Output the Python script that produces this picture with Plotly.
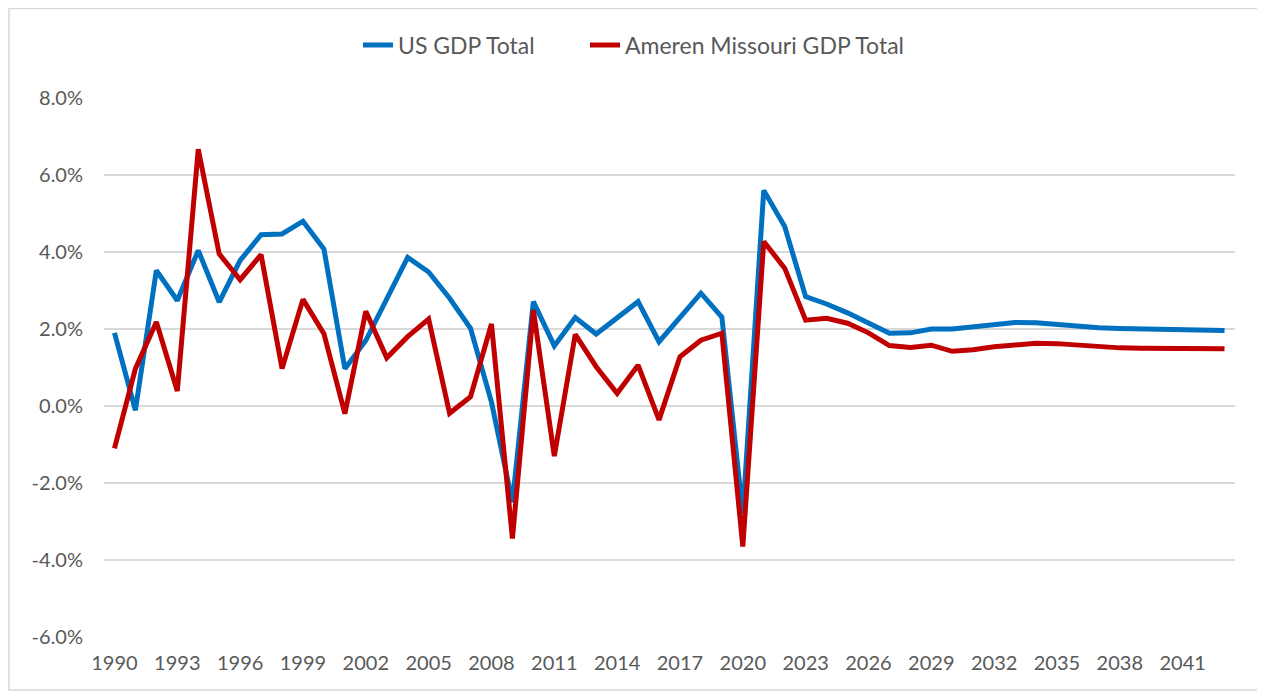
import plotly.graph_objects as go

years = list(range(1990, 2044))

us_gdp = [1.90, -0.11, 3.52, 2.74, 4.04, 2.70, 3.78, 4.45, 4.47, 4.80,
          4.08, 0.97, 1.70, 2.80, 3.86, 3.48, 2.80, 2.02, 0.10, -2.50,
          2.71, 1.56, 2.30, 1.87, 2.29, 2.71, 1.67, 2.32, 2.93, 2.31,
          -2.80, 5.60, 4.66, 2.84, 2.65, 2.42, 2.16, 1.89, 1.90, 2.00,
          2.00, 2.05, 2.12, 2.17, 2.16, 2.11, 2.08, 2.03, 2.01, 2.00,
          1.99, 1.97, 1.96, 1.96]

ameren_gdp = [-1.10, 0.97, 2.18, 0.39, 6.67, 3.95, 3.28, 3.93, 0.97, 2.77,
              1.88, -0.20, 2.46, 1.25, 1.80, 2.26, -0.19, 0.24, 2.13, -3.44,
              2.49, -1.30, 1.86, 1.02, 0.33, 1.06, -0.36, 1.28, 1.71, 1.89,
              -3.65, 4.27, 3.58, 2.23, 2.28, 2.15, 1.90, 1.57, 1.52, 1.58,
              1.42, 1.46, 1.54, 1.60, 1.63, 1.62, 1.58, 1.52, 1.51, 1.50,
              1.49, 1.48, 1.47, 1.49]

tick_years = list(range(1990, 2044, 3))
y_ticks = [-6, -4, -2, 0, 2, 4, 6, 8]
y_labels = [f"{v:.1f}%" for v in y_ticks]

FONT = "Lato, 'Open Sans', sans-serif"
TXT = "#595959"

# page has an 8px body margin; figure is sized/offset to compensate
W, H = 1257, 685
L, T, R, B = 96, 90, 30, 56
PW = W - L - R
PH = H - T - B

fig = go.Figure()
fig.add_trace(go.Scatter(x=years, y=us_gdp, mode="lines", name="US GDP Total",
                         line=dict(color="#0070C0", width=5), legend="legend"))
fig.add_trace(go.Scatter(x=years, y=ameren_gdp, mode="lines", name="Ameren Missouri GDP Total",
                         line=dict(color="#C00000", width=5), legend="legend2"))

leg_common = dict(orientation="h", xanchor="left", y=(PH + T - 37) / PH, yanchor="middle",
                  font=dict(family=FONT, size=23, color=TXT), bgcolor="rgba(0,0,0,0)")

fig.update_layout(
    width=W, height=H,
    margin=dict(l=L, r=R, t=T, b=B, autoexpand=False),
    paper_bgcolor="white", plot_bgcolor="white",
    font=dict(family=FONT, size=20, color=TXT),
    showlegend=True,
    legend=dict(x=(358 - 8 - L) / PW, **leg_common),
    legend2=dict(x=(585 - 8 - L) / PW, **leg_common),
    xaxis=dict(range=[1989.5, 2043.5], tickmode="array", tickvals=tick_years,
               ticktext=[str(y) for y in tick_years], showgrid=False, zeroline=False,
               showline=False, ticks="", ticklabelstandoff=12,
               tickfont=dict(family=FONT, size=20, color=TXT)),
    yaxis=dict(range=[-6, 8], tickmode="array", tickvals=y_ticks, ticktext=y_labels,
               showgrid=True, gridcolor="#D9D9D9", gridwidth=1.5, zeroline=False,
               showline=False, ticks="", ticklabelstandoff=20,
               tickfont=dict(family=FONT, size=20, color=TXT)),
    shapes=[dict(type="rect", xref="paper", yref="paper",
                 x0=(1 - L) / PW, x1=(1251 - L) / PW,
                 y0=(PH + T - 682) / PH, y1=(PH + T - 0.5) / PH,
                 line=dict(color="#D9D9D9", width=1.5), fillcolor="rgba(0,0,0,0)",
                 layer="below")],
)

fig.write_html("out.html")
